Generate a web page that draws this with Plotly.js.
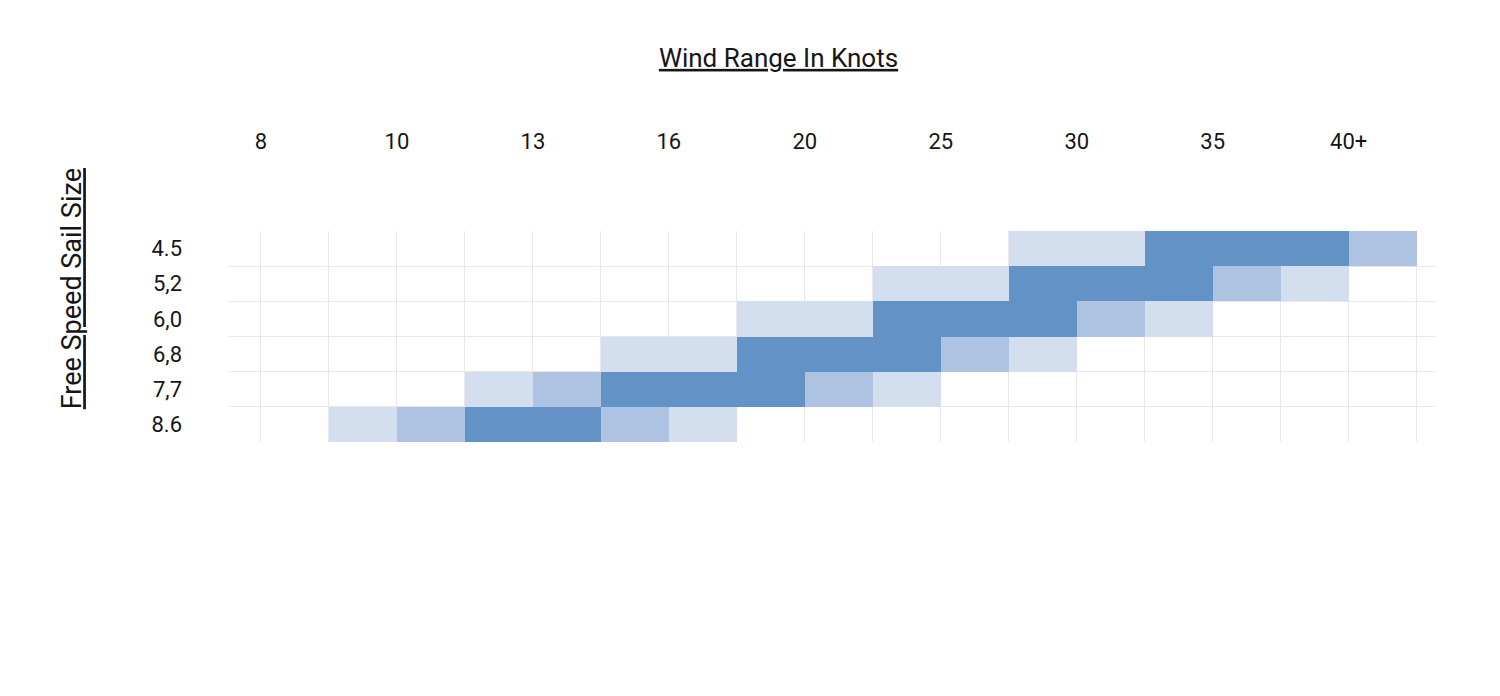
<!DOCTYPE html>
<html>
<head>
<meta charset="utf-8">
<script src="https://cdn.plot.ly/plotly-3.0.1.min.js"></script>
<style>
  html, body { margin: 0; padding: 0; background: #fff; }
  #chart { width: 1500px; height: 696px; }
</style>
</head>
<body>
<div id="chart"></div>
<script>
// wind labels sit on every other grid line
var windLabels = ['8', '10', '13', '16', '20', '25', '30', '35', '40+'];

// sail sizes, top to bottom as printed
var sailSizes = ['4.5', '5,2', '6,0', '6,8', '7,7', '8.6'];

// recommendation level per cell: 0 none, 1 light, 2 medium, 3 best
var row45 = [0,0,0,0,0,0,0,0,0,0,0,1,1,3,3,3,2];
var row52 = [0,0,0,0,0,0,0,0,0,1,1,3,3,3,2,1,0];
var row60 = [0,0,0,0,0,0,0,1,1,3,3,3,2,1,0,0,0];
var row68 = [0,0,0,0,0,1,1,3,3,3,2,1,0,0,0,0,0];
var row77 = [0,0,0,1,2,3,3,3,2,1,0,0,0,0,0,0,0];
var row86 = [0,1,2,3,3,2,1,0,0,0,0,0,0,0,0,0,0];

var nCells = row45.length;

// heatmap rows go bottom-up, so the smallest sail ends on top
var rows = [row86, row77, row68, row60, row52, row45];
var z = rows.map(function(r) {
    return r.map(function(v) { return v === 0 ? null : v; });
});

var cellX = [];
for (var i = 0; i < nCells; i++) cellX.push(i + 0.5);
var cellY = [];
for (var j = 0; j < rows.length; j++) cellY.push(j + 0.5);

var majorX = [], minorX = [];
for (var k = 0; k <= nCells; k++) {
    if (k % 2 === 0) majorX.push(k); else minorX.push(k);
}
var rowEdges = [];
for (var m = 0; m < rows.length; m++) rowEdges.push(m);

var gridColor = '#e7e7ee';
var textColor = '#161616';
var fontFamily = 'Roboto, "DejaVu Sans", sans-serif';

var trace = {
    type: 'heatmap',
    x: cellX,
    y: cellY,
    z: z,
    zmin: 1,
    zmax: 3,
    colorscale: [
        [0, '#d3dfee'],
        [0.5, '#adc3e1'],
        [1, '#6392c6']
    ],
    showscale: false,
    hoverongaps: false,
    hovertemplate: '%{z}<extra></extra>'
};

var layout = {
    width: 1500,
    height: 696,
    margin: { l: 229, r: 65, t: 231, b: 254 },
    paper_bgcolor: '#fff',
    plot_bgcolor: '#fff',
    font: { family: fontFamily, color: textColor },
    showlegend: false,
    title: {
        text: '<u>Wind Range In Knots</u>',
        font: { size: 26, color: textColor },
        xref: 'container',
        x: 0.519,
        xanchor: 'center',
        yref: 'container',
        y: 0.917,
        yanchor: 'middle'
    },
    xaxis: {
        side: 'top',
        range: [-0.47, 17.27],
        tickmode: 'array',
        tickvals: majorX,
        ticktext: windLabels,
        ticks: '',
        ticklabelstandoff: 77,
        tickfont: { size: 22, color: textColor },
        showgrid: true,
        gridcolor: gridColor,
        gridwidth: 1,
        minor: { tickvals: minorX, showgrid: true, gridcolor: gridColor, gridwidth: 1, ticks: '' },
        zeroline: false,
        showline: false,
        fixedrange: true
    },
    yaxis: {
        range: [0, 6],
        tickmode: 'array',
        tickvals: cellY,
        ticktext: sailSizes.slice().reverse(),
        ticks: '',
        ticklabelstandoff: 46,
        tickfont: { size: 22, color: textColor },
        showgrid: false,
        minor: { tickvals: rowEdges, showgrid: true, gridcolor: gridColor, gridwidth: 1, ticks: '' },
        zeroline: false,
        showline: false,
        fixedrange: true
    },
    annotations: [{
        text: '<u>Free Speed Sail Size</u>',
        xref: 'paper',
        yref: 'paper',
        x: -0.130,
        y: 0.725,
        xanchor: 'center',
        yanchor: 'middle',
        textangle: -90,
        showarrow: false,
        font: { size: 27, color: textColor }
    }]
};

Plotly.newPlot('chart', [trace], layout, { displayModeBar: false, staticPlot: true });
</script>
</body>
</html>
